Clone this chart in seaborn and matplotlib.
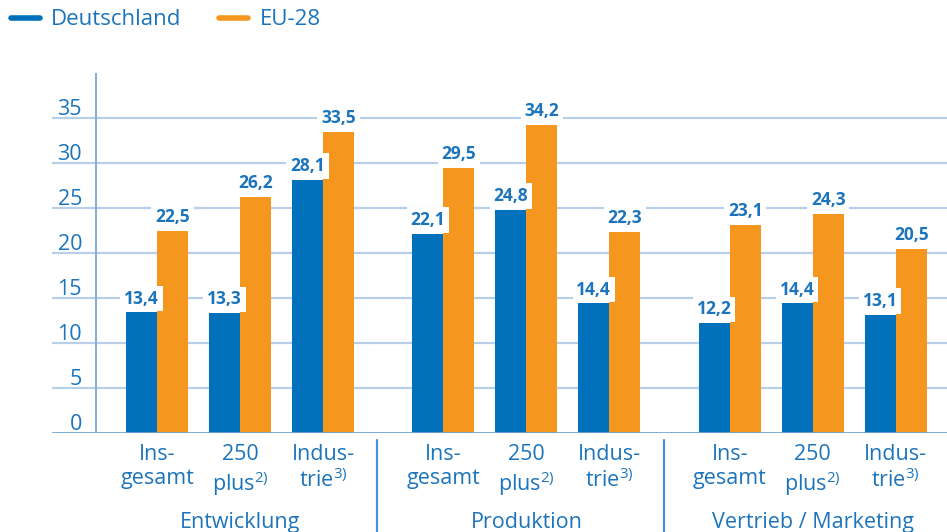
import matplotlib
matplotlib.use("Agg")
import matplotlib.pyplot as plt
import matplotlib.transforms as mtransforms
from matplotlib.lines import Line2D
import seaborn as sns
import pandas as pd

# ---- data ----
groups = ["Entwicklung", "Produktion", "Vertrieb / Marketing"]
subcats = ["Ins-\ngesamt", "250\nplus$^{\\mathregular{2)}}$", "Indus-\ntrie$^{\\mathregular{3)}}$"]
series = ["Deutschland", "EU-28"]
de_values = [13.4, 13.3, 28.1, 22.1, 24.8, 14.4, 12.2, 14.4, 13.1]
eu_values = [22.5, 26.2, 33.5, 29.5, 34.2, 22.3, 23.1, 24.3, 20.5]
y_ticks = [0, 5, 10, 15, 20, 25, 30, 35]

# ---- style ----
BLUE = "#0071BA"
ORANGE = "#F5961F"
TEXT = "#1C75BC"
GRID = "#B7CFE9"
AXIS = "#7FAEDB"
BASE = "#6FA3D8"
SEP = "#4A8FCF"

sns.set_theme(style="white")
plt.rcParams["font.family"] = ["Open Sans", "DejaVu Sans"]

GROUP_GAP = 1.45
positions = []
for g in range(len(groups)):
    for s in range(len(subcats)):
        positions.append(g * (len(subcats) - 1 + GROUP_GAP) + s)

rows = []
for p, d, e in zip(positions, de_values, eu_values):
    rows.append({"pos": p, "Region": series[0], "value": d})
    rows.append({"pos": p, "Region": series[1], "value": e})
df = pd.DataFrame(rows)

fig = plt.figure(figsize=(9.47, 5.32), dpi=100)
W, H = 947, 532
ax = fig.add_axes([52 / W, (H - 433) / H, (W - 52) / W, 360 / H])

sns.barplot(data=df, x="pos", y="value", hue="Region", native_scale=True,
            palette=[BLUE, ORANGE], width=0.75, gap=0, legend=False,
            saturation=1, ax=ax, zorder=3, linewidth=0)

px = 83.0
ax.set_xlim((52 - 157) / px, (W - 157) / px)
ax.set_ylim(0, 40)
for s in ax.spines.values():
    s.set_visible(False)

# gridlines
for t in y_ticks[1:]:
    ax.axhline(t, color=GRID, lw=1.6, zorder=1)
ax.axhline(0, color=BASE, lw=2.0, zorder=4)
ax.axvline((96 - 157) / px, color=AXIS, lw=1.4, zorder=2)

# y tick labels above the gridlines
tr_y = mtransforms.blended_transform_factory(ax.transAxes, ax.transData)
for t in y_ticks:
    ax.text(30 / (W - 52), t + 0.35, str(t), transform=tr_y, ha="right",
            va="baseline", color=TEXT, fontsize=15.5)
ax.set_yticks([])

# x tick labels
ax.set_xticks(positions)
ax.set_xticklabels(subcats * len(groups), color=TEXT, fontsize=15.5,
                   linespacing=1.2)
ax.tick_params(axis="x", length=0, pad=8)
ax.set_xlabel("")
ax.set_ylabel("")

# group labels and separators
tr_x = mtransforms.blended_transform_factory(ax.transData, ax.transAxes)
n = len(subcats)
for g, name in enumerate(groups):
    cx = sum(positions[g * n:(g + 1) * n]) / n
    ax.text(cx, (433 - 528) / 360, name, transform=tr_x, ha="center",
            va="baseline", color=TEXT, fontsize=15.5, clip_on=False)
    if g < len(groups) - 1:
        sx = (positions[(g + 1) * n - 1] + positions[(g + 1) * n]) / 2 - 0.07
        ax.plot([sx, sx], [(433 - 440) / 360, -0.35], transform=tr_x,
                color=SEP, lw=1.6, clip_on=False)

# value labels
for cont in ax.containers:
    ax.bar_label(cont, fmt=lambda v: f"{v:.1f}".replace(".", ","),
                 padding=3.5, color=TEXT, fontsize=12.5, fontweight="bold",
                 zorder=5,
                 bbox=dict(boxstyle="square,pad=0.22", fc="white", ec="none"))

# legend
handles = [Line2D([0], [0], color=BLUE, lw=4),
           Line2D([0], [0], color=ORANGE, lw=4)]
leg = fig.legend(handles, series, loc="upper left",
                 bbox_to_anchor=(8 / W, 1 - 6 / H),
                 ncol=2, frameon=False, fontsize=16, handlelength=1.3,
                 handletextpad=0.5, columnspacing=1.7, borderaxespad=0.0,
                 borderpad=0.15, labelcolor=TEXT)

fig.savefig("out.png", dpi=100)
